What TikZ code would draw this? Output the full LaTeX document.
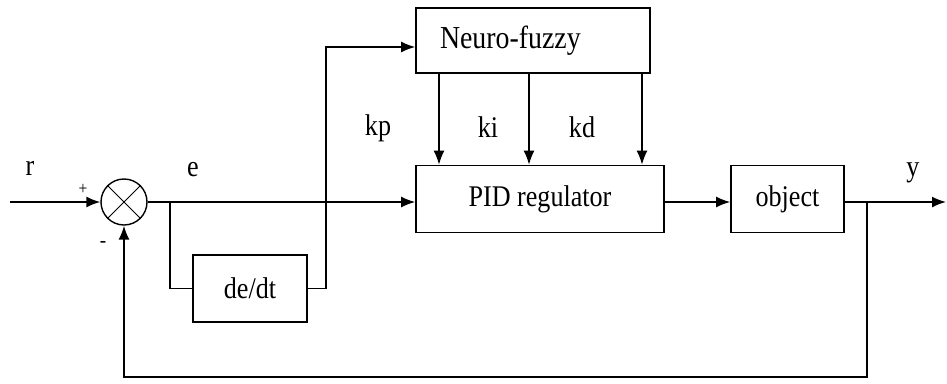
\documentclass[tikz,border=0pt]{standalone}
\usepackage{fontspec}
\setmainfont[FakeStretch=0.87]{Liberation Serif}
\usetikzlibrary{arrows.meta}

\begin{document}
\begin{tikzpicture}[x=1pt, y=-1pt, >={Latex[length=14pt,width=11pt]}, line width=1.6pt,
  block/.style={draw, rectangle, inner sep=0pt, minimum height=67pt, font=\fontsize{30}{32}\selectfont},
  lbl/.style={inner sep=0pt, font=\fontsize{30}{32}\selectfont}]
\useasboundingbox (0,0) rectangle (947,383);

\node[draw, circle, line width=1.4pt, minimum size=46pt, inner sep=0pt] (sum) at (124,202) {};
\draw[line width=1pt] (sum.45) -- (sum.225) (sum.135) -- (sum.315);

\node[block, minimum width=234pt, minimum height=65pt, text width=186pt, align=left,
  font=\fontsize{32}{34}\selectfont] (nf) at (533,40.5) {Neuro-fuzzy};
\node[block, minimum width=248pt] (pid) at (540,199) {PID regulator};
\node[block, minimum width=113pt] (obj) at (787.5,199) {object};
\node[block, minimum width=114pt] (dedt) at (250,288.5) {de/dt};

\coordinate (in) at (10,202);
\coordinate (b1) at (170,202);
\coordinate (up) at (326,47);
\coordinate (b2) at (867,202);
\coordinate (out) at (946,202);
\coordinate (fb) at (124,377);

% signal path
\draw[->] (in) -- (sum.west);
\draw[->] (sum.east) -- (pid.west |- sum.east);
\draw (b1) |- (dedt.west);
\draw[->] (dedt.east) -| (up) -- (nf.west |- up);
\foreach \x in {439,529,642}
  \draw[->] (nf.south -| \x,0) -- (pid.north -| \x,0);
\draw[->] (pid.east |- sum.east) -- (obj.west |- sum.east);
\draw[->] (obj.east |- b2) -- (out);
% feedback
\draw[->] (b2) -- (b2 |- fb) -- (fb) -- (sum.south);

\node[lbl] (r) at (30,168) {r};
\node[lbl] (e) at (193,170) {e};
\node[lbl] (y) at (913,173) {y};
\node[lbl] (kp) at (378,128) {kp};
\node[lbl] (ki) at (488,127) {ki};
\node[lbl] (kd) at (582,127) {kd};
\node[lbl, font=\fontsize{18}{20}\selectfont] (plus) at (83,189) {+};
\node[lbl, font=\fontsize{22}{24}\selectfont] (minus) at (103,244) {-};
\end{tikzpicture}
\end{document}
